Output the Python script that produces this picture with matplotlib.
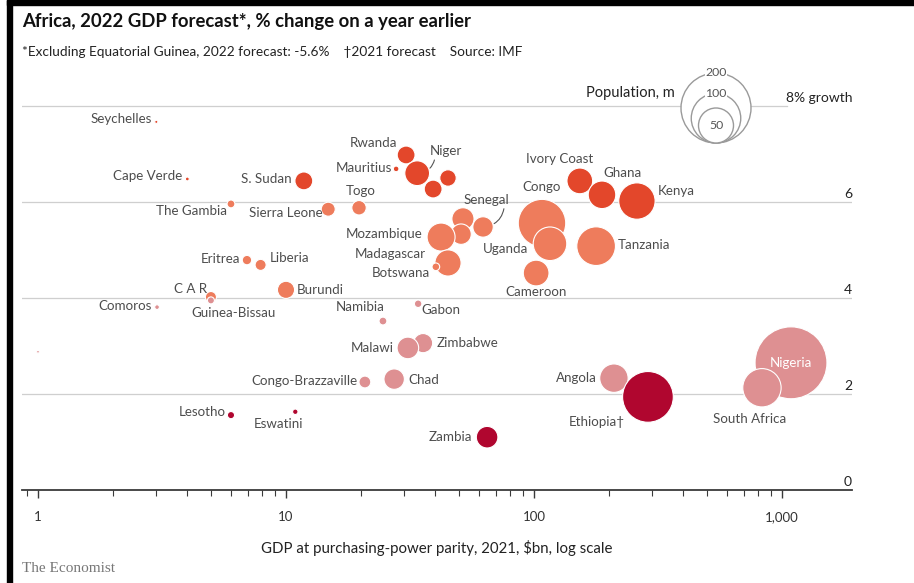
import numpy as np
import matplotlib
matplotlib.use("Agg")
import matplotlib.pyplot as plt
import matplotlib.transforms as mtransforms
from matplotlib.colors import ListedColormap, BoundaryNorm
from matplotlib.patches import Circle, Rectangle
from matplotlib.ticker import FixedLocator, FuncFormatter, LogLocator, NullFormatter

plt.rcParams["font.family"] = ["Lato", "DejaVu Sans"]

# data: GDP at PPP ($bn), 2022 growth forecast (%), population (m)
countries = ["Seychelles", "Cape Verde", "S. Sudan", "The Gambia", "Sierra Leone", "Togo",
             "Rwanda", "Mauritius", "Niger", "Benin", "Guinea", "Burkina Faso", "Mali",
             "Senegal", "Mozambique", "Madagascar", "Botswana", "Congo", "Uganda", "Cameroon",
             "Ivory Coast", "Ghana", "Kenya", "Tanzania", "Eritrea", "Liberia", "CAR",
             "Guinea-Bissau", "Burundi", "Comoros", "Namibia", "Gabon", "Malawi", "Zimbabwe",
             "Chad", "Congo-Brazzaville", "Lesotho", "Eswatini", "Zambia", "Angola",
             "Ethiopia", "South Africa", "Nigeria", "Sao Tome"]
gdp = [3.0, 4.0, 11.8, 6.0, 14.8, 19.7,
       30.5, 27.8, 33.8, 39.2, 45.0, 51.7, 50.8,
       62.3, 42.2, 45.0, 40.2, 107.7, 116, 102,
       153, 188, 260, 178, 6.96, 7.9, 4.98,
       4.98, 10.0, 3.02, 24.6, 34.1, 31.0, 35.7,
       27.3, 20.8, 6.0, 10.9, 64.7, 210,
       288, 830, 1087, 1.0]
growth = [7.67, 6.48, 6.44, 5.96, 5.85, 5.88,
          6.98, 6.69, 6.60, 6.27, 6.50, 5.65, 5.33,
          5.48, 5.27, 4.73, 4.65, 5.56, 5.13, 4.52,
          6.44, 6.15, 6.02, 5.08, 4.79, 4.69, 4.02,
          3.95, 4.17, 3.81, 3.52, 3.88, 2.96, 3.06,
          2.31, 2.25, 1.56, 1.63, 1.10, 2.33,
          1.94, 2.13, 2.65, 2.88]
population = [0.4, 0.6, 13, 2.5, 8, 8.5,
              13, 1.3, 25, 13, 11, 20, 17,
              17, 32, 28, 2.4, 92, 46, 27,
              27, 31, 54, 61, 3.6, 5, 5,
              2, 12, 0.9, 2.5, 2.3, 19, 15,
              17, 5.7, 2.1, 1.2, 19, 33,
              105, 60, 211, 0.3]
legend_pops = [200, 100, 50]
x_ticks = [1, 10, 100, 1000]
y_grid = [2, 4, 6]

# label placement: (dx px, dy px, ha)
labels = {
    "Seychelles": (-4, 3, "right"), "Cape Verde": (-5, 3, "right"),
    "S. Sudan": (-12, 2, "right"), "The Gambia": (-4, -7, "right"),
    "Sierra Leone": (-6, -4, "right"), "Togo": (2, 17, "center"),
    "Rwanda": (-9, 12, "right"), "Mauritius": (-4, 1, "right"),
    "Niger": (13, 22, "left"), "Senegal": (3, 27, "center"),
    "Mozambique": (-19, 3, "right"), "Madagascar": (-22, 9, "right"),
    "Botswana": (-6, -6, "right"), "Congo": (0, 36, "center"),
    "Uganda": (-22, -5, "right"), "Cameroon": (0, -19, "center"),
    "Ivory Coast": (-20, 22, "center"), "Ghana": (20, 22, "center"),
    "Kenya": (21, 10, "left"), "Tanzania": (22, 1, "left"),
    "Eritrea": (-7, 1, "right"), "Liberia": (9, 7, "left"),
    "CAR": (-4, 8, "right"), "Guinea-Bissau": (23, -13, "center"),
    "Burundi": (11, 0, "left"), "Comoros": (-5, 1, "right"),
    "Namibia": (2, 14, "right"), "Gabon": (3, -6, "left"),
    "Malawi": (-14, 0, "right"), "Zimbabwe": (14, 0, "left"),
    "Chad": (14, -1, "left"), "Congo-Brazzaville": (-7, 1, "right"),
    "Lesotho": (-5, 3, "right"), "Eswatini": (-17, -12, "center"),
    "Zambia": (-15, 0, "right"), "Angola": (-17, 0, "right"),
    "Ethiopia": (-23, -25, "right"), "South Africa": (-12, -31, "center"),
    "Nigeria": (0, 0, "center"),
}
display = {"CAR": "C A R", "Ethiopia": "Ethiopia\u2020"}
leaders = {"Niger": (0.15, 0.0, -0.4), "Senegal": (0.9, 0.0, -0.4)}

DPI = 100
W, H = 914, 583
R200 = 35.0  # px radius of a 200m bubble


def radius_px(p):
    return R200 * np.sqrt(np.asarray(p) / 200.0)


band_colors = ["#b0062f", "#de9092", "#ee7c5c", "#e3472b"]
cmap = ListedColormap(band_colors)
norm = BoundaryNorm([-10, 2, 4, 6, 12], cmap.N)

fig = plt.figure(figsize=(W / DPI, H / DPI), dpi=DPI)
ax = fig.add_axes([22 / W, (H - 490) / H, 830 / W, 415 / H])
ax.set_xscale("log")
ax.set_xlim(0.862, 1915)
ax.set_ylim(0, 8.646)

for side in ["top", "left", "right"]:
    ax.spines[side].set_visible(False)
ax.spines["bottom"].set_color("#3a3a3a")
ax.spines["bottom"].set_linewidth(1.3)
ax.set_yticks([])

ax.xaxis.set_major_locator(FixedLocator(x_ticks))
ax.xaxis.set_major_formatter(FuncFormatter(lambda v, p: f"{v:,.0f}"))
ax.xaxis.set_minor_locator(LogLocator(base=10, subs=np.arange(2, 10)))
ax.xaxis.set_minor_formatter(NullFormatter())
ax.tick_params(axis="x", which="major", length=6, width=1, color="#3a3a3a",
               pad=9, labelsize=9.5, labelcolor="#333333")
ax.tick_params(axis="x", which="minor", length=4, width=0.8, color="#3a3a3a")
ax.set_xlabel("GDP at purchasing-power parity, 2021, $bn, log scale",
              fontsize=10.8, color="#222222", labelpad=12)

# gridlines and their labels
lab_tr = mtransforms.blended_transform_factory(ax.transAxes, ax.transData)
for g in y_grid:
    ax.axhline(g, color="#cfcfcf", lw=0.9, zorder=0)
    ax.text(1.0, g + 0.04, str(g), transform=lab_tr, ha="right", va="bottom",
            fontsize=10, color="#222222")
ax.text(1.0, 0.04, "0", transform=lab_tr, ha="right", va="bottom",
        fontsize=10, color="#222222")
ax.axhline(8, xmin=0, xmax=(787 - 22) / 830, color="#cfcfcf", lw=0.9, zorder=0)
ax.text(1.0, 8.04, "8% growth", transform=lab_tr, ha="right", va="bottom",
        fontsize=10, color="#222222")

# bubbles, drawn from top to bottom so lower ones overlap
order = np.argsort(-np.asarray(growth))
x = np.asarray(gdp)[order]
y = np.asarray(growth)[order]
r = radius_px(np.asarray(population)[order])
sizes = (2 * r * 72 / DPI) ** 2
ax.scatter(x, y, s=sizes, c=y, cmap=cmap, norm=norm, edgecolors="white",
           linewidths=0.8, zorder=3)

for name, (dx, dy, ha) in labels.items():
    i = countries.index(name)
    txt = display.get(name, name)
    col = "white" if name == "Nigeria" else "#4d4d4d"
    kw = {}
    if name in leaders:
        rx, ry, rad = leaders[name]
        kw["arrowprops"] = dict(arrowstyle="-", color="#555555", lw=0.8,
                                relpos=(rx, ry), shrinkA=0,
                                shrinkB=radius_px(population[i]) * 72 / DPI + 1,
                                connectionstyle=f"arc3,rad={rad}")
    ax.annotate(txt, (gdp[i], growth[i]), xytext=(dx, dy),
                textcoords="offset pixels", ha=ha, va="center",
                fontsize=9.6, color=col, zorder=5, **kw)

# population legend
lax = fig.add_axes([670 / W, (H - 150) / H, 100 / W, 90 / H])
lax.set_xlim(0, 100)
lax.set_ylim(0, 90)
lax.axis("off")
for p in legend_pops:
    rr = float(radius_px(p))
    lax.add_patch(Circle((46, 7 + rr), rr, facecolor="white", edgecolor="#9a9a9a", lw=1))
for p in legend_pops[:2]:
    rr = float(radius_px(p))
    lax.text(46, 7 + 2 * rr, str(p), ha="center", va="center", fontsize=8.8,
             color="#555555", bbox=dict(facecolor="white", edgecolor="none", pad=0.5))
lax.text(46, 7 + radius_px(50), "50", ha="center", va="center", fontsize=8.8,
         color="#555555")
fig.text(675 / W, 1 - 93 / H, "Population, m", ha="right", va="center",
         fontsize=10.5, color="#222222")

# titles and footer
fig.text(22 / W, 1 - 22 / H, "Africa, 2022 GDP forecast*, % change on a year earlier",
         ha="left", va="center", fontsize=13.3, fontweight="bold", color="#111111")
fig.text(22 / W, 1 - 52 / H,
         "*Excluding Equatorial Guinea, 2022 forecast: -5.6%    \u20202021 forecast    Source: IMF",
         ha="left", va="center", fontsize=9.8, color="#222222")
fig.text(22 / W, 1 - 568 / H, "The Economist", ha="left", va="center",
         fontsize=11, color="#777777", family="Liberation Serif")

# screenshot frame
fig.add_artist(Rectangle((7 / W, 0), 5 / W, 1, transform=fig.transFigure,
                         color="black", zorder=10))
fig.add_artist(Rectangle((7 / W, 1 - 5 / H), 1, 5 / H, transform=fig.transFigure,
                         color="black", zorder=10))

fig.savefig("out.png", dpi=DPI)
